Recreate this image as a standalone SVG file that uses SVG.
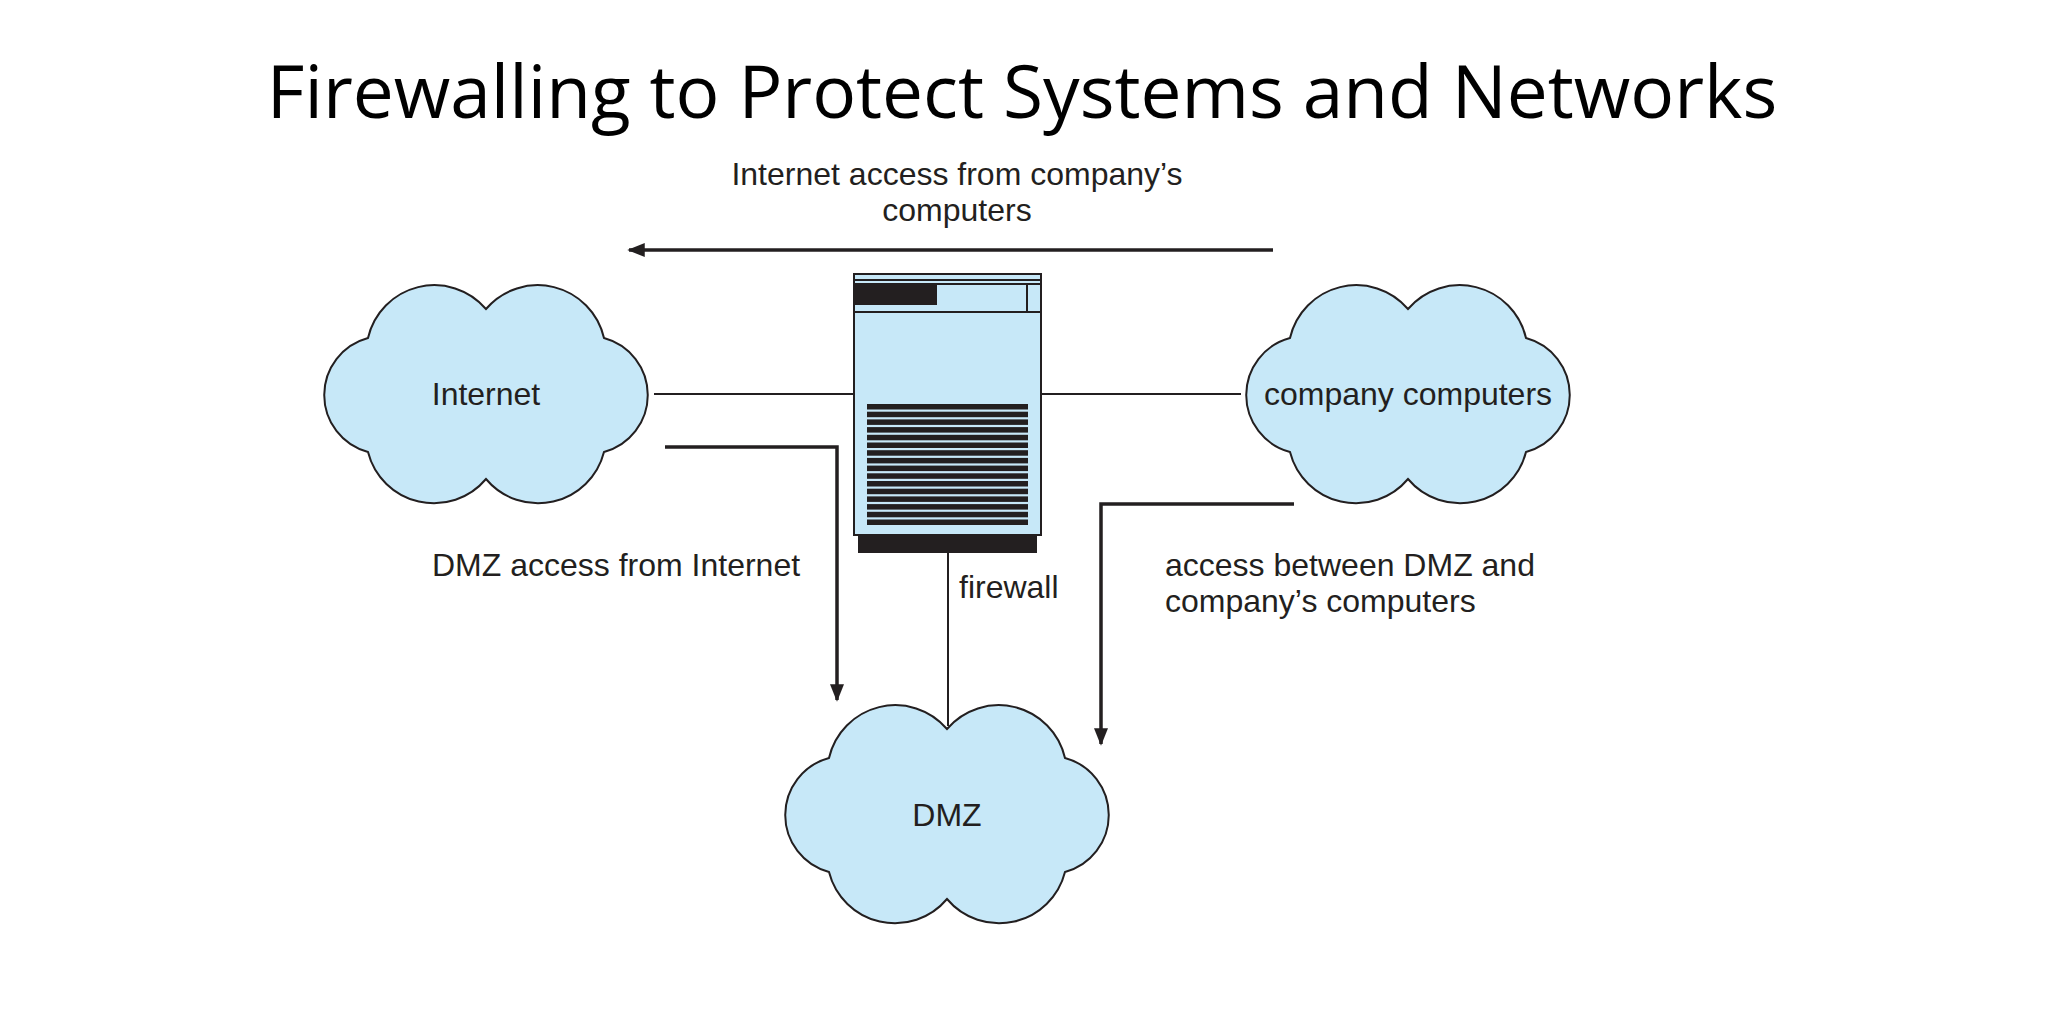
<svg xmlns="http://www.w3.org/2000/svg" width="2048" height="1024" viewBox="0 0 2048 1024">
<style>
.lbl{font-family:"Liberation Sans",Arial,sans-serif;font-size:32px;fill:#231f20}
.cloud{fill:#c7e8f8;stroke:#231f20;stroke-width:2}
.thin{stroke:#231f20;stroke-width:2;fill:none}
.arr{stroke:#231f20;stroke-width:3.5;fill:none;marker-end:url(#ah)}
</style>
<defs>
<marker id="ah" viewBox="0 0 10 10" refX="9" refY="5" markerWidth="5" markerHeight="5" orient="auto" markerUnits="strokeWidth"><path d="M0,1 L10,5 L0,9 Z" fill="#231f20"/></marker>
<path id="cl" d="M0,-85 A68,68 0 0 0 -118,-56 A59,59 0 0 0 -118,58 A68,68 0 0 0 0,85 A68,68 0 0 0 118,58 A59,59 0 0 0 118,-56 A68,68 0 0 0 0,-85 Z"/>
</defs>
<rect width="2048" height="1024" fill="#fff"/>
<text x="1022" y="118" text-anchor="middle" font-family="Open Sans, sans-serif" font-size="73" fill="#000">Firewalling to Protect Systems and Networks</text>
<g id="connectors">
<line class="thin" x1="654" y1="394" x2="854" y2="394"/>
<line class="thin" x1="1041" y1="394" x2="1241" y2="394"/>
<line class="thin" x1="948" y1="553" x2="948" y2="726"/>
<path class="arr" d="M1273,250 L629,250"/>
<path class="arr" d="M665,447 L837,447 L837,700"/>
<path class="arr" d="M1294,504 L1101,504 L1101,744"/>
</g>
<g id="internet"><use href="#cl" class="cloud" transform="translate(486,394)"/><text class="lbl" x="486" y="405" text-anchor="middle">Internet</text></g>
<g id="company"><use href="#cl" class="cloud" transform="translate(1408,394)"/><text class="lbl" x="1408" y="405" text-anchor="middle">company computers</text></g>
<g id="dmz"><use href="#cl" class="cloud" transform="translate(947,814)"/><text class="lbl" x="947" y="826" text-anchor="middle">DMZ</text></g>
<g id="firewall">
<rect x="854" y="274" width="187" height="261" fill="#c7e8f8" stroke="#231f20" stroke-width="2"/>
<line class="thin" x1="854" y1="280" x2="1041" y2="280"/>
<line class="thin" x1="854" y1="284" x2="1041" y2="284"/>
<line class="thin" x1="854" y1="312" x2="1041" y2="312"/>
<line class="thin" x1="1027" y1="284" x2="1027" y2="312"/>
<rect x="855" y="284" width="82" height="21" fill="#231f20"/>
<rect x="858" y="535" width="179" height="18" fill="#231f20"/>
<g fill="#231f20">
<rect x="867" y="404" width="161" height="5.5"/><rect x="867" y="411.7" width="161" height="5.5"/><rect x="867" y="419.4" width="161" height="5.5"/><rect x="867" y="427.1" width="161" height="5.5"/><rect x="867" y="434.8" width="161" height="5.5"/><rect x="867" y="442.5" width="161" height="5.5"/><rect x="867" y="450.2" width="161" height="5.5"/><rect x="867" y="457.9" width="161" height="5.5"/><rect x="867" y="465.6" width="161" height="5.5"/><rect x="867" y="473.3" width="161" height="5.5"/><rect x="867" y="481" width="161" height="5.5"/><rect x="867" y="488.7" width="161" height="5.5"/><rect x="867" y="496.4" width="161" height="5.5"/><rect x="867" y="504.1" width="161" height="5.5"/><rect x="867" y="511.8" width="161" height="5.5"/><rect x="867" y="519.5" width="161" height="5.5"/>
</g>
<text class="lbl" x="959" y="598">firewall</text>
</g>
<g id="labels">
<text class="lbl" x="957" y="185" text-anchor="middle">Internet access from company’s</text>
<text class="lbl" x="957" y="221" text-anchor="middle">computers</text>
<text class="lbl" x="432" y="576">DMZ access from Internet</text>
<text class="lbl" x="1165" y="576">access between DMZ and</text>
<text class="lbl" x="1165" y="612">company’s computers</text>
</g>
</svg>
